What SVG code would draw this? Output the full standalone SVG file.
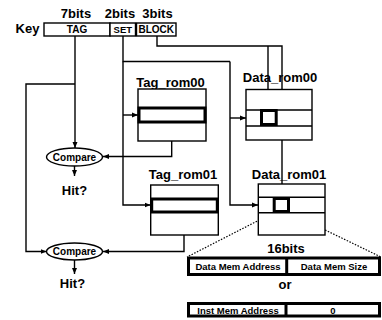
<svg xmlns="http://www.w3.org/2000/svg" width="382" height="320" viewBox="0 0 382 320">
<defs>
<marker id="ah" markerWidth="6" markerHeight="6" refX="6" refY="3" orient="auto" markerUnits="userSpaceOnUse">
<path d="M0,0.5 L6,3 L0,5.5 Z" fill="#000"/>
</marker>
<style>
text{font-family:"Liberation Sans",Arial,sans-serif;font-weight:bold;fill:#000;text-anchor:middle}
.t13{font-size:13px}
.t10{font-size:10px}
.t95{font-size:9.5px}
.box{fill:#fff;stroke:#000;stroke-width:1.4}
.thick{fill:none;stroke:#000;stroke-width:3}
.thickw{fill:#fff;stroke:#000;stroke-width:3}
.ln{fill:none;stroke:#000;stroke-width:1.4}
.arr{fill:none;stroke:#000;stroke-width:1.4;marker-end:url(#ah)}
.dot{fill:none;stroke:#000;stroke-width:1.2;stroke-dasharray:1.5 1.5}
</style>
</defs>
<rect width="382" height="320" fill="#fff"/>

<g id="connectors">
<!-- TAG -->
<path class="arr" d="M75,36 V148"/>
<path class="arr" d="M75,84 H26 V251.5 H46.5"/>
<!-- SET -->
<path class="ln" d="M123,36 V61.5 H230"/>
<path class="arr" d="M123,61.5 V205 H150.5"/>
<path class="arr" d="M123,115 H138"/>
<path class="arr" d="M230,61.5 V205 H258"/>
<path class="arr" d="M230,118 H246"/>
<!-- BLOCK -->
<path class="arr" d="M157,36 V46 H282 V197"/>
<path class="arr" d="M268,46 V109"/>
<!-- tag outputs -->
<path class="arr" d="M171.7,123 V156.5 H103"/>
<path class="arr" d="M184,213 V251.5 H103"/>
<!-- hit arrows -->
<path class="arr" d="M74.5,166 V176"/>
<path class="arr" d="M74.5,260 V274"/>
<!-- dotted zoom -->
<path class="dot" d="M273,213 L187,257"/>
<path class="dot" d="M290,213 L381,257"/>
</g>

<g id="key">
<text class="t13" x="27.5" y="33">Key</text>
<text class="t13" x="76" y="18">7bits</text>
<text class="t13" x="120" y="18">2bits</text>
<text class="t13" x="157.5" y="18">3bits</text>
<rect class="box" x="44" y="23" width="66" height="13"/>
<rect class="box" x="110" y="23" width="25.5" height="13"/>
<rect class="box" x="136.5" y="23" width="39.5" height="13"/>
<text class="t10" x="77" y="33">TAG</text>
<text class="t95" x="122.8" y="33">SET</text>
<text class="t10" x="156.3" y="33">BLOCK</text>
</g>

<g id="tag_rom00">
<text class="t13" x="170.5" y="86.5">Tag_rom00</text>
<rect class="box" x="138" y="89" width="68" height="52"/>
<rect class="thickw" x="139" y="108" width="66" height="14"/>
</g>

<g id="data_rom00">
<text class="t13" x="280" y="82">Data_rom00</text>
<rect class="box" x="246" y="89.5" width="66" height="50.5"/>
<path class="ln" d="M246,110 H312 M246,126 H312"/>
<rect class="thickw" x="261.5" y="110.5" width="14.7" height="14"/>
</g>

<g id="tag_rom01">
<text class="t13" x="183" y="178.5">Tag_rom01</text>
<rect class="box" x="150.7" y="185" width="67.6" height="50"/>
<rect class="thickw" x="151.7" y="199" width="65.6" height="13"/>
</g>

<g id="data_rom01">
<text class="t13" x="289" y="178.5">Data_rom01</text>
<rect class="box" x="258.3" y="184" width="66.7" height="51"/>
<path class="ln" d="M258.3,197.3 H325 M258.3,212.7 H325"/>
<rect class="thickw" x="274.2" y="198.5" width="14.3" height="13"/>
</g>

<g id="compare1">
<ellipse class="box" cx="74.5" cy="157" rx="28" ry="9" stroke-width="1.6"/>
<text class="t10" x="74.5" y="160.5">Compare</text>
<text class="t13" x="74.5" y="195">Hit?</text>
</g>

<g id="compare2">
<ellipse class="box" cx="74.5" cy="251.5" rx="28" ry="8.5" stroke-width="1.6"/>
<text class="t10" x="74.5" y="255">Compare</text>
<text class="t13" x="72.5" y="288">Hit?</text>
</g>

<g id="entry">
<text class="t13" x="286" y="252.5">16bits</text>
<rect class="thickw" x="188.5" y="258" width="191" height="16.5"/>
<path class="thick" d="M286.7,258 V274.5"/>
<text class="t95" x="238" y="269.5">Data Mem Address</text>
<text class="t95" x="334" y="269.5">Data Mem Size</text>
<text class="t13" x="285" y="289">or</text>
<rect class="thickw" x="188.5" y="303.5" width="191" height="12.5"/>
<path class="thick" d="M286,303.5 V316"/>
<text class="t95" x="238" y="313.5">Inst Mem Address</text>
<text class="t95" x="333" y="313.5">0</text>
</g>
</svg>
